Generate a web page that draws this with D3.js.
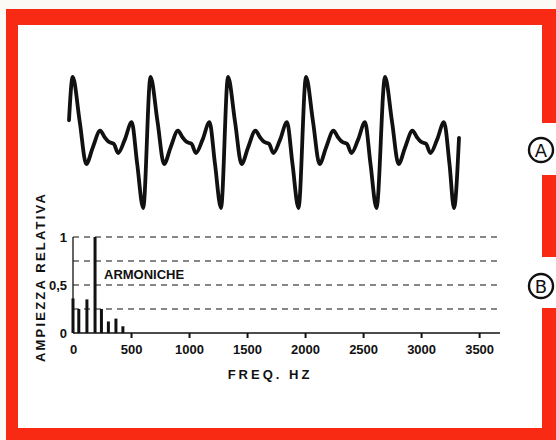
<!DOCTYPE html>
<html>
<head>
<meta charset="utf-8">
<script src="https://cdn.jsdelivr.net/npm/d3@7/dist/d3.min.js"></script>
<style>
  html, body { margin: 0; padding: 0; background: #fbfaf4; }
  svg { display: block; }
  text { font-family: "Liberation Sans", Arial, sans-serif; font-weight: bold; fill: #111; }
</style>
</head>
<body>
<script>
// ---- DATA ----
// Waveform (A): time (arbitrary units) and relative amplitude
const waveT = [0, 3.7, 10.7, 17.3, 23.7, 31.2, 35.7, 39.7, 44.7, 49.2, 55.7, 62.7, 68.2, 74.2,
  81.5, 88.5, 95.1, 101.5, 109, 113.5, 117.5, 122.5, 127, 133.5, 140.5, 146, 152,
  159, 166, 172.6, 179, 186.5, 191, 195, 200, 204.5, 211, 218, 223.5, 229.5,
  237, 244, 250.6, 257, 264.5, 269, 273, 278, 282.5, 289, 296, 301.5, 307.5,
  316, 323, 329.6, 336, 343.5, 348, 352, 357, 361.5, 368, 375, 380.5, 385, 390];
const waveA = [0.34, 1.0, 0.32, -0.33, -0.08, 0.18, 0.08, 0.01, -0.02, -0.16, 0.04, 0.31, -0.33, -1.0,
  1.0, 0.32, -0.33, -0.08, 0.18, 0.08, 0.01, -0.02, -0.16, 0.04, 0.31, -0.33, -1.0,
  1.0, 0.32, -0.33, -0.08, 0.18, 0.08, 0.01, -0.02, -0.16, 0.04, 0.31, -0.33, -1.0,
  1.0, 0.32, -0.33, -0.08, 0.18, 0.08, 0.01, -0.02, -0.16, 0.04, 0.31, -0.33, -1.0,
  1.0, 0.32, -0.33, -0.08, 0.18, 0.08, 0.01, -0.02, -0.16, 0.04, 0.31, -0.33, -1.0, 0.07];

// Spectrum (B): harmonic frequencies (Hz) and relative amplitudes
const specFreq = [0, 50, 120, 190, 245, 305, 370, 430];
const specAmp = [0.36, 0.25, 0.35, 1.0, 0.25, 0.12, 0.15, 0.07];

const xTicks = [0, 500, 1000, 1500, 2000, 2500, 3000, 3500];
const yTicks = [0, 0.5, 1];
const yGrid = [0.25, 0.5, 0.75, 1];
const yTickLabels = ["0", "0,5", "1"];
const xTitle = "FREQ. HZ";
const yTitle = "AMPIEZZA RELATIVA";
const annot = "ARMONICHE";
const markers = ["A", "B"];

// ---- DRAW ----
const W = 556, H = 440;
const red = "#f82a14";
const svg = d3.select("body").append("svg").attr("width", W).attr("height", H);

// red frame
svg.append("rect").attr("x", 6).attr("y", 9).attr("width", W - 6).attr("height", H - 9).attr("fill", red);
svg.append("rect").attr("x", 18).attr("y", 25).attr("width", 524).attr("height", 403).attr("fill", "#fff");
// gaps in right border for markers
svg.append("rect").attr("x", 528).attr("y", 123).attr("width", 28).attr("height", 52).attr("fill", "#fff");
svg.append("rect").attr("x", 528).attr("y", 257).attr("width", 28).attr("height", 51).attr("fill", "#fff");

// markers
const markerY = [150, 286];
markers.forEach((m, i) => {
  svg.append("circle").attr("cx", 541).attr("cy", markerY[i]).attr("r", 12)
    .attr("fill", "#fff").attr("stroke", "#111").attr("stroke-width", 2.4);
  svg.append("text").attr("x", 541).attr("y", markerY[i] + 6.5).attr("text-anchor", "middle")
    .attr("font-size", 18).style("font-family", "DejaVu Sans").style("font-weight", "normal").text(m);
});

// waveform
const xw = d3.scaleLinear().domain([0, 390]).range([69, 459]);
const yw = d3.scaleLinear().domain([-1, 1]).range([208, 77]);
const wave = waveT.map((t, i) => [t, waveA[i]]);
svg.append("path").datum(wave)
  .attr("d", d3.line().x(d => xw(d[0])).y(d => yw(d[1])).curve(d3.curveMonotoneX))
  .attr("fill", "none").attr("stroke", "#111").attr("stroke-width", 3.8)
  .attr("stroke-linejoin", "round").attr("stroke-linecap", "round");

// spectrum
const x = d3.scaleLinear().domain([0, 3680]).range([73, 500]);
const y = d3.scaleLinear().domain([0, 1]).range([333, 237]);

// dashed grid
svg.append("g").selectAll("line").data(yGrid).join("line")
  .attr("x1", x(0)).attr("x2", x(3680)).attr("y1", d => y(d)).attr("y2", d => y(d))
  .attr("stroke", "#111").attr("stroke-width", 1.2).attr("stroke-dasharray", "6,5");

// x axis
const gx = svg.append("g").attr("transform", `translate(0,${y(0)})`)
  .call(d3.axisBottom(x).tickValues(xTicks).tickSize(5).tickPadding(7).tickFormat(d3.format("d")));
gx.select(".domain").remove();
gx.selectAll(".tick line").attr("stroke", "#111").attr("stroke-width", 2).filter(d => d === 0).remove();
gx.selectAll(".tick text").attr("font-size", 13).style("font-family", "Liberation Sans").style("font-weight", "bold").attr("fill", "#111");
svg.append("line").attr("x1", x(0)).attr("x2", x(3680)).attr("y1", y(0)).attr("y2", y(0))
  .attr("stroke", "#111").attr("stroke-width", 1.6);

// y axis
const gy = svg.append("g").attr("transform", `translate(${x(0)},0)`)
  .call(d3.axisLeft(y).tickValues(yTicks).tickSize(0).tickPadding(6).tickFormat((d, i) => yTickLabels[i]));
gy.select(".domain").remove();
gy.selectAll(".tick text").attr("font-size", 13).style("font-family", "Liberation Sans").style("font-weight", "bold").attr("fill", "#111");
svg.append("line").attr("x1", x(0)).attr("x2", x(0)).attr("y1", y(1)).attr("y2", y(0))
  .attr("stroke", "#111").attr("stroke-width", 1.3);

// bars
svg.append("g").selectAll("rect").data(specFreq).join("rect")
  .attr("x", d => x(d) - 1.5).attr("width", 3)
  .attr("y", (d, i) => y(specAmp[i])).attr("height", (d, i) => y(0) - y(specAmp[i]))
  .attr("fill", "#111");

// annotation
svg.append("text").attr("x", 104).attr("y", 279).attr("font-size", 13).text(annot);

// titles
svg.append("text").attr("x", 270).attr("y", 379).attr("text-anchor", "middle")
  .attr("font-size", 13).attr("letter-spacing", 3).text(xTitle);
svg.append("text").attr("transform", "translate(45,277) rotate(-90)").attr("text-anchor", "middle")
  .attr("font-size", 13).attr("letter-spacing", 2.2).text(yTitle);
</script>
</body>
</html>
